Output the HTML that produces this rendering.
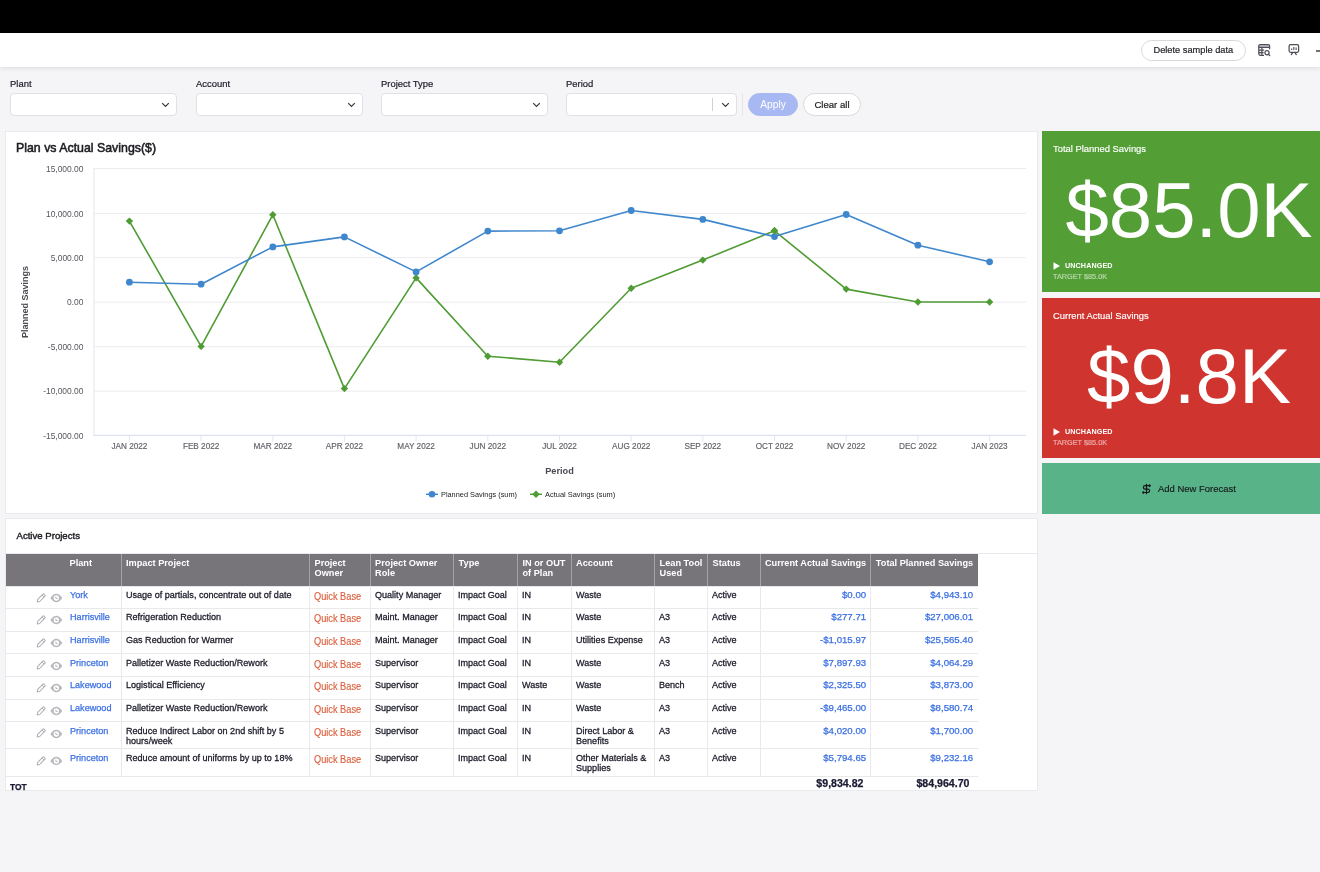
<!DOCTYPE html>
<html lang="en">
<head>
<meta charset="utf-8">
<title>Plan vs Actual Savings Dashboard</title>
<style>
*{box-sizing:border-box;margin:0;padding:0}
html,body{width:1320px;height:872px;overflow:hidden;background:#f5f5f8;font-family:"Liberation Sans",sans-serif;color:#1f1f24}
.abs{position:absolute}
#blackbar{left:0;top:0;width:1320px;height:33px;background:#000}
#toolbar{left:0;top:33px;width:1320px;height:34px;background:#fff;box-shadow:0 1px 5px rgba(0,0,0,.11)}
.pill{position:absolute;border:1px solid #d9d9dd;border-radius:12px;background:#fff;font-size:9.6px;text-align:center;color:#1f1f24;-webkit-text-stroke:.2px #1f1f24}
.flabel{position:absolute;top:78px;font-size:9.7px;color:#1c1c28;line-height:12px;-webkit-text-stroke:.2px #1c1c28;transform:scaleX(.975);transform-origin:0 50%}
.fsel{position:absolute;top:92.800px;width:167px;height:23px;background:#fff;border:1px solid #e0e0e5;border-radius:4px}
.fsel svg{position:absolute;right:6.2px;top:8.2px}
.panel{position:absolute;background:#fff;border:1px solid #e9eaee}
.kt{position:absolute;left:11px;top:11.6px;font-size:9.6px;color:#fff;line-height:12px;white-space:nowrap;transform:scaleX(.98);transform-origin:0 50%;-webkit-text-stroke:.15px #fff}
.kv{position:absolute;left:0;width:294px;text-align:center;font-size:78px;line-height:80px;color:#fff;letter-spacing:0}
.ku{position:absolute;left:23px;font-size:7.2px;font-weight:bold;color:#fff;line-height:9px;letter-spacing:.1px}
.kg{position:absolute;left:11px;font-size:7.3px;color:rgba(255,255,255,.5);-webkit-text-stroke:.2px rgba(255,255,255,.5);line-height:9px;margin-top:.5px}
.th{position:absolute;color:#fff;font-weight:bold;font-size:9.2px;line-height:10px;white-space:nowrap}
.td{position:absolute;font-size:9.65px;line-height:9.500px;color:#1a1a28;white-space:nowrap;-webkit-text-stroke:.28px #1a1a28;transform:scaleX(.94);transform-origin:0 50%}
.td.lnk{color:#3a6fe2;-webkit-text-stroke:.25px #3a6fe2;transform:scaleX(.945)}
.td.lnk.num{font-size:9.65px;transform:scaleX(1)}
.td.qb{color:#dc5e3b;font-size:10.3px;-webkit-text-stroke:.15px #dc5e3b;transform:scaleX(.895)}
.td.num{text-align:right;transform-origin:100% 50%}
.td.tot{font-weight:bold;-webkit-text-stroke:.25px #1a1a33;font-size:10.1px;color:#1a1a33;transform:scaleX(1.05)}
.ic{position:absolute}
</style>
</head>
<body>
<div id="blackbar" class="abs"></div>
<div id="toolbar" class="abs">
  <div class="pill" style="left:1141px;top:6.5px;width:105px;height:21.5px;line-height:18.5px;"><span style="display:inline-block;transform:scaleX(.965)">Delete sample data</span></div>
  <svg class="abs" style="left:1257px;top:10px" width="15" height="15" viewBox="0 0 15 15" fill="none" stroke="#4e4e56" stroke-width="1.25"><path d="M2.2 1.700h9.6v2.400H2.200z" fill="#c9c9ce" stroke="none"/><path d="M7 12.300H3.300A1.500 1.500 0 0 1 1.800 10.800V3.100A1.500 1.500 0 0 1 3.300 1.600H11.100A1.500 1.500 0 0 1 12.600 3.100V6.300"/><path d="M1.800 4.400H12.600M4.900 4.400V12.300M1.800 7.100H7.200M1.800 9.700H6.600"/><circle cx="10" cy="9.800" r="2.100"/><path d="M11.600 11.400l1.200 1.200" stroke-linecap="round"/></svg>
  <svg class="abs" style="left:1287px;top:10px" width="15" height="15" viewBox="0 0 15 15" fill="none" stroke="#4e4e56" stroke-width="1.25"><rect x="2.100" y="1.700" width="9.500" height="7.600" rx="1.500"/><path d="M5.700 9.600L4.300 11.600M7.900 9.600L9.300 11.600" stroke-linecap="round"/><path d="M4.700 5.400v1.500M6.800 4v2.900M9.100 4.400v2.500" stroke-width="1.100"/></svg>
  <div class="abs" style="left:1316.3px;top:17.200px;width:8px;height:2px;background:#707076"></div>
</div>

<div class="flabel" style="left:10px">Plant</div>
<div class="flabel" style="left:196px">Account</div>
<div class="flabel" style="left:381px">Project Type</div>
<div class="flabel" style="left:566px">Period</div>
<div class="fsel" style="left:10px"><svg width="9" height="6" viewBox="0 0 9 6"><path d="M1.200 1.100l3.300 3.300 3.300-3.300" fill="none" stroke="#3a3a40" stroke-width="1.250"/></svg></div>
<div class="fsel" style="left:196px"><svg width="9" height="6" viewBox="0 0 9 6"><path d="M1.200 1.100l3.300 3.300 3.300-3.300" fill="none" stroke="#3a3a40" stroke-width="1.250"/></svg></div>
<div class="fsel" style="left:381px"><svg width="9" height="6" viewBox="0 0 9 6"><path d="M1.200 1.100l3.300 3.300 3.300-3.300" fill="none" stroke="#3a3a40" stroke-width="1.250"/></svg></div>
<div class="fsel" style="left:566px;width:171px"><svg width="9" height="6" viewBox="0 0 9 6"><path d="M1.200 1.100l3.300 3.300 3.300-3.300" fill="none" stroke="#3a3a40" stroke-width="1.250"/></svg><div style="position:absolute;left:145px;top:4px;width:1px;height:13px;background:#d0d1d6"></div></div>
<div class="abs" style="left:742px;top:93px;width:1px;height:23px;background:#e4e5ea"></div>
<div class="pill" style="left:748px;top:93px;width:50px;height:23px;line-height:21px;background:#a8b8f2;border-color:#a8b8f2;color:#fff;-webkit-text-stroke:0;font-size:10.2px">Apply</div>
<div class="pill" style="left:803px;top:93px;width:58px;height:23px;line-height:21px;">Clear all</div>

<div class="panel" style="left:5px;top:131px;width:1033px;height:383px"></div>
<div class="abs" style="left:16.2px;top:139.6px;font-size:13px;line-height:15px;color:#1c1c22;-webkit-text-stroke:.55px #1c1c22;white-space:nowrap;transform-origin:0 50%;transform:scaleX(.95)">Plan vs Actual Savings($)</div>
<div class="panel" style="left:5px;top:518px;width:1033px;height:273px"></div>
<div class="abs" style="left:6px;top:552.5px;width:1031px;height:1px;background:#e9eaee"></div>
<div class="abs" style="left:16.5px;top:530px;font-size:9.6px;line-height:12px;color:#1c1c22;-webkit-text-stroke:.4px #1c1c22">Active Projects</div>
<svg class="abs" style="left:0;top:0" width="1320" height="872" viewBox="0 0 1320 872" font-family="Liberation Sans, sans-serif">
<line x1="94" x2="1026" y1="168.5" y2="168.5" stroke="#ececf0" stroke-width="1"/>
<line x1="94" x2="1026" y1="213.4" y2="213.4" stroke="#ececf0" stroke-width="1"/>
<line x1="94" x2="1026" y1="257.7" y2="257.7" stroke="#ececf0" stroke-width="1"/>
<line x1="94" x2="1026" y1="302.2" y2="302.2" stroke="#ececf0" stroke-width="1"/>
<line x1="94" x2="1026" y1="346.7" y2="346.7" stroke="#ececf0" stroke-width="1"/>
<line x1="94" x2="1026" y1="391.2" y2="391.2" stroke="#ececf0" stroke-width="1"/>
<line x1="94" x2="94" y1="168" y2="435.5" stroke="#e3e4ea" stroke-width="1"/>
<line x1="93.5" x2="1026" y1="435.3" y2="435.3" stroke="#dfe2f3" stroke-width="1.2"/>
<line x1="129.4" x2="129.4" y1="435.5" y2="441.500" stroke="#e3e6f4" stroke-width="1"/>
<line x1="201.1" x2="201.1" y1="435.5" y2="441.500" stroke="#e3e6f4" stroke-width="1"/>
<line x1="272.8" x2="272.8" y1="435.5" y2="441.500" stroke="#e3e6f4" stroke-width="1"/>
<line x1="344.4" x2="344.4" y1="435.5" y2="441.500" stroke="#e3e6f4" stroke-width="1"/>
<line x1="416.1" x2="416.1" y1="435.5" y2="441.500" stroke="#e3e6f4" stroke-width="1"/>
<line x1="487.8" x2="487.8" y1="435.5" y2="441.500" stroke="#e3e6f4" stroke-width="1"/>
<line x1="559.5" x2="559.5" y1="435.5" y2="441.500" stroke="#e3e6f4" stroke-width="1"/>
<line x1="631.2" x2="631.2" y1="435.5" y2="441.500" stroke="#e3e6f4" stroke-width="1"/>
<line x1="702.8" x2="702.8" y1="435.5" y2="441.500" stroke="#e3e6f4" stroke-width="1"/>
<line x1="774.5" x2="774.5" y1="435.5" y2="441.500" stroke="#e3e6f4" stroke-width="1"/>
<line x1="846.2" x2="846.2" y1="435.5" y2="441.500" stroke="#e3e6f4" stroke-width="1"/>
<line x1="917.9" x2="917.9" y1="435.5" y2="441.500" stroke="#e3e6f4" stroke-width="1"/>
<line x1="989.6" x2="989.6" y1="435.5" y2="441.500" stroke="#e3e6f4" stroke-width="1"/>
<text x="83.5" y="171.7" text-anchor="end" font-size="8.45" fill="#55555c">15,000.00</text>
<text x="83.5" y="216.6" text-anchor="end" font-size="8.45" fill="#55555c">10,000.00</text>
<text x="83.5" y="260.9" text-anchor="end" font-size="8.45" fill="#55555c">5,000.00</text>
<text x="83.5" y="305.4" text-anchor="end" font-size="8.45" fill="#55555c">0.00</text>
<text x="83.5" y="349.9" text-anchor="end" font-size="8.45" fill="#55555c">-5,000.00</text>
<text x="83.5" y="394.4" text-anchor="end" font-size="8.45" fill="#55555c">-10,000.00</text>
<text x="83.5" y="438.6" text-anchor="end" font-size="8.45" fill="#55555c">-15,000.00</text>
<text x="129.4" y="449.3" text-anchor="middle" font-size="8.2" fill="#5f5f66" stroke="#5f5f66" stroke-width=".15">JAN 2022</text>
<text x="201.1" y="449.3" text-anchor="middle" font-size="8.2" fill="#5f5f66" stroke="#5f5f66" stroke-width=".15">FEB 2022</text>
<text x="272.8" y="449.3" text-anchor="middle" font-size="8.2" fill="#5f5f66" stroke="#5f5f66" stroke-width=".15">MAR 2022</text>
<text x="344.4" y="449.3" text-anchor="middle" font-size="8.2" fill="#5f5f66" stroke="#5f5f66" stroke-width=".15">APR 2022</text>
<text x="416.1" y="449.3" text-anchor="middle" font-size="8.2" fill="#5f5f66" stroke="#5f5f66" stroke-width=".15">MAY 2022</text>
<text x="487.8" y="449.3" text-anchor="middle" font-size="8.2" fill="#5f5f66" stroke="#5f5f66" stroke-width=".15">JUN 2022</text>
<text x="559.5" y="449.3" text-anchor="middle" font-size="8.2" fill="#5f5f66" stroke="#5f5f66" stroke-width=".15">JUL 2022</text>
<text x="631.2" y="449.3" text-anchor="middle" font-size="8.2" fill="#5f5f66" stroke="#5f5f66" stroke-width=".15">AUG 2022</text>
<text x="702.8" y="449.3" text-anchor="middle" font-size="8.2" fill="#5f5f66" stroke="#5f5f66" stroke-width=".15">SEP 2022</text>
<text x="774.5" y="449.3" text-anchor="middle" font-size="8.2" fill="#5f5f66" stroke="#5f5f66" stroke-width=".15">OCT 2022</text>
<text x="846.2" y="449.3" text-anchor="middle" font-size="8.2" fill="#5f5f66" stroke="#5f5f66" stroke-width=".15">NOV 2022</text>
<text x="917.9" y="449.3" text-anchor="middle" font-size="8.2" fill="#5f5f66" stroke="#5f5f66" stroke-width=".15">DEC 2022</text>
<text x="989.6" y="449.3" text-anchor="middle" font-size="8.2" fill="#5f5f66" stroke="#5f5f66" stroke-width=".15">JAN 2023</text>
<text x="559.5" y="474" text-anchor="middle" font-size="9.2" font-weight="bold" fill="#4a4a52">Period</text>
<text transform="translate(28,302) rotate(-90)" text-anchor="middle" font-size="9" font-weight="bold" fill="#4a4a52">Planned Savings</text>
<polyline points="129.4,221.1 201.1,346.4 272.8,214.8 344.4,388.6 416.1,277.9 487.8,356.2 559.5,362.2 631.2,288.2 702.8,260.1 774.5,230.8 846.2,289.1 917.9,302.0 989.6,302.0" fill="none" stroke="#4f9b34" stroke-width="1.6" stroke-linejoin="round"/>
<polyline points="129.4,282.2 201.1,284.2 272.8,246.9 344.4,236.9 416.1,271.9 487.8,231.1 559.5,230.8 631.2,210.5 702.8,219.4 774.5,236.6 846.2,214.5 917.9,245.2 989.6,261.8" fill="none" stroke="#3f87cd" stroke-width="1.6" stroke-linejoin="round"/>
<path d="M129.4 217.4l3.7 3.7l-3.7 3.7l-3.7 -3.7z" fill="#4f9b34"/>
<path d="M201.1 342.7l3.7 3.7l-3.7 3.7l-3.7 -3.7z" fill="#4f9b34"/>
<path d="M272.8 211.1l3.7 3.7l-3.7 3.7l-3.7 -3.7z" fill="#4f9b34"/>
<path d="M344.4 384.9l3.7 3.7l-3.7 3.7l-3.7 -3.7z" fill="#4f9b34"/>
<path d="M416.1 274.2l3.7 3.7l-3.7 3.7l-3.7 -3.7z" fill="#4f9b34"/>
<path d="M487.8 352.5l3.7 3.7l-3.7 3.7l-3.7 -3.7z" fill="#4f9b34"/>
<path d="M559.5 358.5l3.7 3.7l-3.7 3.7l-3.7 -3.7z" fill="#4f9b34"/>
<path d="M631.2 284.5l3.7 3.7l-3.7 3.7l-3.7 -3.7z" fill="#4f9b34"/>
<path d="M702.8 256.4l3.7 3.7l-3.7 3.7l-3.7 -3.7z" fill="#4f9b34"/>
<path d="M774.5 227.1l3.7 3.7l-3.7 3.7l-3.7 -3.7z" fill="#4f9b34"/>
<path d="M846.2 285.4l3.7 3.7l-3.7 3.7l-3.7 -3.7z" fill="#4f9b34"/>
<path d="M917.9 298.3l3.7 3.7l-3.7 3.7l-3.7 -3.7z" fill="#4f9b34"/>
<path d="M989.6 298.3l3.7 3.7l-3.7 3.7l-3.7 -3.7z" fill="#4f9b34"/>
<circle cx="129.4" cy="282.2" r="3.4" fill="#3f87cd"/>
<circle cx="201.1" cy="284.2" r="3.4" fill="#3f87cd"/>
<circle cx="272.8" cy="246.9" r="3.4" fill="#3f87cd"/>
<circle cx="344.4" cy="236.9" r="3.4" fill="#3f87cd"/>
<circle cx="416.1" cy="271.9" r="3.4" fill="#3f87cd"/>
<circle cx="487.8" cy="231.1" r="3.4" fill="#3f87cd"/>
<circle cx="559.5" cy="230.8" r="3.4" fill="#3f87cd"/>
<circle cx="631.2" cy="210.5" r="3.4" fill="#3f87cd"/>
<circle cx="702.8" cy="219.4" r="3.4" fill="#3f87cd"/>
<circle cx="774.5" cy="236.6" r="3.4" fill="#3f87cd"/>
<circle cx="846.2" cy="214.5" r="3.4" fill="#3f87cd"/>
<circle cx="917.9" cy="245.2" r="3.4" fill="#3f87cd"/>
<circle cx="989.6" cy="261.8" r="3.4" fill="#3f87cd"/>
<path d="M774.5 227.1l3.7 3.7l-3.7 3.7l-3.7 -3.7z" fill="#4f9b34"/>
<line x1="426" x2="438" y1="494.3" y2="494.3" stroke="#3f87cd" stroke-width="1.5"/><circle cx="432" cy="494.3" r="3.300" fill="#3f87cd"/>
<text x="441" y="497.2" font-size="7.9" fill="#222" textLength="76" lengthAdjust="spacingAndGlyphs">Planned Savings (sum)</text>
<line x1="530" x2="542" y1="494.3" y2="494.3" stroke="#4f9b34" stroke-width="1.5"/><path d="M536 490.600l3.700 3.700l-3.700 3.700l-3.700 -3.700z" fill="#4f9b34"/>
<text x="545" y="497.2" font-size="7.9" fill="#222" textLength="70.3" lengthAdjust="spacingAndGlyphs">Actual Savings (sum)</text>
</svg>

<div class="abs" style="left:1042px;top:131px;width:294px;height:161px;background:#539f36">
  <div class="kt">Total Planned Savings</div>
  <div class="kv" style="top:39px">$85.0K</div>
  <svg class="abs" style="left:11px;top:130.5px" width="8" height="8" viewBox="0 0 8 8"><path d="M.5 .3v7.4L7 4z" fill="#fff"/></svg>
  <div class="ku" style="top:130px">UNCHANGED</div>
  <div class="kg" style="top:140px">TARGET $85.0K</div>
</div>
<div class="abs" style="left:1042px;top:298px;width:294px;height:160px;background:#d0342f">
  <div class="kt">Current Actual Savings</div>
  <div class="kv" style="top:38px">$9.8K</div>
  <svg class="abs" style="left:11px;top:129.5px" width="8" height="8" viewBox="0 0 8 8"><path d="M.5 .3v7.4L7 4z" fill="#fff"/></svg>
  <div class="ku" style="top:129px">UNCHANGED</div>
  <div class="kg" style="top:139px">TARGET $85.0K</div>
</div>
<div class="abs" style="left:1042px;top:463px;width:294px;height:51px;background:#58b388">
  <svg class="abs" style="left:98px;top:18px" width="14" height="16" viewBox="0 0 14 16" fill="none" stroke="#17171c" stroke-width="1.200"><path d="M6.500 2.800V13.200"/><path d="M10.200 4.700H5.100a1.700 1.700 0 0 0 0 3.400H7.900a1.700 1.700 0 0 1 0 3.400H2.800"/><path d="M9.400 3.400l1.500 1.300-1.500 1.300z" fill="#17171c" stroke-width=".6"/><path d="M3.600 10.200l-1.500 1.300 1.500 1.300z" fill="#17171c" stroke-width=".6"/></svg>
  <div class="abs" style="left:116px;top:19.8px;font-size:9.8px;line-height:12px;color:#17171c;white-space:nowrap;transform:scaleX(.965);transform-origin:0 50%;-webkit-text-stroke:.15px #17171c">Add New Forecast</div>
</div>

<div class="abs" style="left:6px;top:553.5px;width:972px;height:32.5px;background:#77747a"></div>
<div class="th" style="left:69.5px;top:557.7px;width:50px">Plant</div>
<div class="abs" style="left:120.6px;top:553.5px;width:1px;height:32.5px;background:#a5a3a8"></div>
<div class="th" style="left:126.0px;top:557.7px;width:183.50000000000003px">Impact Project</div>
<div class="abs" style="left:309.1px;top:553.5px;width:1px;height:32.5px;background:#a5a3a8"></div>
<div class="th" style="left:314.5px;top:557.7px;width:55.599999999999966px">Project<br>Owner</div>
<div class="abs" style="left:369.7px;top:553.5px;width:1px;height:32.5px;background:#a5a3a8"></div>
<div class="th" style="left:375.09999999999997px;top:557.7px;width:78.5px">Project Owner<br>Role</div>
<div class="abs" style="left:453.2px;top:553.5px;width:1px;height:32.5px;background:#a5a3a8"></div>
<div class="th" style="left:458.59999999999997px;top:557.7px;width:58.900000000000034px">Type</div>
<div class="abs" style="left:517.1px;top:553.5px;width:1px;height:32.5px;background:#a5a3a8"></div>
<div class="th" style="left:522.5px;top:557.7px;width:48.60000000000002px">IN or OUT<br>of Plan</div>
<div class="abs" style="left:570.7px;top:553.5px;width:1px;height:32.5px;background:#a5a3a8"></div>
<div class="th" style="left:576.1px;top:557.7px;width:78.5px">Account</div>
<div class="abs" style="left:654.2px;top:553.5px;width:1px;height:32.5px;background:#a5a3a8"></div>
<div class="th" style="left:659.6px;top:557.7px;width:48.0px">Lean Tool<br>Used</div>
<div class="abs" style="left:707.2px;top:553.5px;width:1px;height:32.5px;background:#a5a3a8"></div>
<div class="th" style="left:712.6px;top:557.7px;width:48.09999999999991px">Status</div>
<div class="abs" style="left:760.3px;top:553.5px;width:1px;height:32.5px;background:#a5a3a8"></div>
<div class="th" style="left:760.8px;top:557.7px;width:105.4px;text-align:right">Current Actual Savings</div>
<div class="abs" style="left:870.3px;top:553.5px;width:1px;height:32.5px;background:#a5a3a8"></div>
<div class="th" style="left:870.8px;top:557.7px;width:102.4px;text-align:right">Total Planned Savings</div>
<div class="abs" style="left:6px;top:607.8px;width:972px;height:1px;background:#e9e9ec"></div>
<svg class="ic" style="left:36.3px;top:592.7px" width="10" height="10" viewBox="0 0 10 10" fill="none" stroke="#b0aeb4" stroke-width="1.05" stroke-linejoin="round"><path d="M1.200 9l.5-2.600L6.900 1.200a.85.85 0 0 1 1.200 0l.8.8a.85.85 0 0 1 0 1.200L3.700 8.500z"/><path d="M6 2l2.100 2.100" stroke-width=".9"/></svg>
<svg class="ic" style="left:49.9px;top:592.9px" width="13" height="10" viewBox="0 0 13 10"><path d="M.3 5Q6.300 -3.500 12.300 5Q6.300 13.500 .3 5z" fill="#b9b7bc"/><circle cx="6.300" cy="5" r="2.700" fill="#fff"/><path d="M5.900 3.500v2h1.700" stroke-width="1" fill="none" stroke="#b9b7bc"/></svg>
<div class="td lnk" style="left:70px;top:590.05px;width:52px">York</div>
<div class="td" style="left:125.6px;top:590.05px;width:183.50000000000003px">Usage of partials, concentrate out of date</div>
<div class="td qb" style="left:314.20000000000005px;top:592px;width:55.599999999999966px">Quick Base</div>
<div class="td" style="left:374.7px;top:590.05px;width:78.5px">Quality Manager</div>
<div class="td" style="left:458.2px;top:590.05px;width:58.900000000000034px">Impact Goal</div>
<div class="td" style="left:522.1px;top:590.05px;width:48.60000000000002px">IN</div>
<div class="td" style="left:575.7px;top:590.05px;width:78.5px">Waste</div>
<div class="td" style="left:659.2px;top:590.05px;width:48.0px"></div>
<div class="td" style="left:712.2px;top:590.05px;width:48.09999999999991px">Active</div>
<div class="td lnk num" style="left:760.8px;top:590.05px;width:105.3px">$0.00</div>
<div class="td lnk num" style="left:870.8px;top:590.05px;width:102.3px">$4,943.10</div>
<div class="abs" style="left:6px;top:630.5px;width:972px;height:1px;background:#e9e9ec"></div>
<svg class="ic" style="left:36.3px;top:615.0px" width="10" height="10" viewBox="0 0 10 10" fill="none" stroke="#b0aeb4" stroke-width="1.05" stroke-linejoin="round"><path d="M1.200 9l.5-2.600L6.900 1.200a.85.85 0 0 1 1.200 0l.8.8a.85.85 0 0 1 0 1.200L3.700 8.500z"/><path d="M6 2l2.100 2.100" stroke-width=".9"/></svg>
<svg class="ic" style="left:49.9px;top:615.1999999999999px" width="13" height="10" viewBox="0 0 13 10"><path d="M.3 5Q6.300 -3.500 12.300 5Q6.300 13.500 .3 5z" fill="#b9b7bc"/><circle cx="6.300" cy="5" r="2.700" fill="#fff"/><path d="M5.900 3.500v2h1.700" stroke-width="1" fill="none" stroke="#b9b7bc"/></svg>
<div class="td lnk" style="left:70px;top:612.3499999999999px;width:52px">Harrisville</div>
<div class="td" style="left:125.6px;top:612.3499999999999px;width:183.50000000000003px">Refrigeration Reduction</div>
<div class="td qb" style="left:314.20000000000005px;top:614.3px;width:55.599999999999966px">Quick Base</div>
<div class="td" style="left:374.7px;top:612.3499999999999px;width:78.5px">Maint. Manager</div>
<div class="td" style="left:458.2px;top:612.3499999999999px;width:58.900000000000034px">Impact Goal</div>
<div class="td" style="left:522.1px;top:612.3499999999999px;width:48.60000000000002px">IN</div>
<div class="td" style="left:575.7px;top:612.3499999999999px;width:78.5px">Waste</div>
<div class="td" style="left:659.2px;top:612.3499999999999px;width:48.0px">A3</div>
<div class="td" style="left:712.2px;top:612.3499999999999px;width:48.09999999999991px">Active</div>
<div class="td lnk num" style="left:760.8px;top:612.3499999999999px;width:105.3px">$277.71</div>
<div class="td lnk num" style="left:870.8px;top:612.3499999999999px;width:102.3px">$27,006.01</div>
<div class="abs" style="left:6px;top:653.2px;width:972px;height:1px;background:#e9e9ec"></div>
<svg class="ic" style="left:36.3px;top:637.7px" width="10" height="10" viewBox="0 0 10 10" fill="none" stroke="#b0aeb4" stroke-width="1.05" stroke-linejoin="round"><path d="M1.200 9l.5-2.600L6.900 1.200a.85.85 0 0 1 1.200 0l.8.8a.85.85 0 0 1 0 1.200L3.700 8.500z"/><path d="M6 2l2.100 2.100" stroke-width=".9"/></svg>
<svg class="ic" style="left:49.9px;top:637.9px" width="13" height="10" viewBox="0 0 13 10"><path d="M.3 5Q6.300 -3.500 12.300 5Q6.300 13.500 .3 5z" fill="#b9b7bc"/><circle cx="6.300" cy="5" r="2.700" fill="#fff"/><path d="M5.900 3.500v2h1.700" stroke-width="1" fill="none" stroke="#b9b7bc"/></svg>
<div class="td lnk" style="left:70px;top:635.05px;width:52px">Harrisville</div>
<div class="td" style="left:125.6px;top:635.05px;width:183.50000000000003px">Gas Reduction for Warmer</div>
<div class="td qb" style="left:314.20000000000005px;top:637px;width:55.599999999999966px">Quick Base</div>
<div class="td" style="left:374.7px;top:635.05px;width:78.5px">Maint. Manager</div>
<div class="td" style="left:458.2px;top:635.05px;width:58.900000000000034px">Impact Goal</div>
<div class="td" style="left:522.1px;top:635.05px;width:48.60000000000002px">IN</div>
<div class="td" style="left:575.7px;top:635.05px;width:78.5px">Utilities Expense</div>
<div class="td" style="left:659.2px;top:635.05px;width:48.0px">A3</div>
<div class="td" style="left:712.2px;top:635.05px;width:48.09999999999991px">Active</div>
<div class="td lnk num" style="left:760.8px;top:635.05px;width:105.3px">-$1,015.97</div>
<div class="td lnk num" style="left:870.8px;top:635.05px;width:102.3px">$25,565.40</div>
<div class="abs" style="left:6px;top:675.9px;width:972px;height:1px;background:#e9e9ec"></div>
<svg class="ic" style="left:36.3px;top:660.4000000000001px" width="10" height="10" viewBox="0 0 10 10" fill="none" stroke="#b0aeb4" stroke-width="1.05" stroke-linejoin="round"><path d="M1.200 9l.5-2.600L6.900 1.200a.85.85 0 0 1 1.200 0l.8.8a.85.85 0 0 1 0 1.200L3.700 8.500z"/><path d="M6 2l2.100 2.100" stroke-width=".9"/></svg>
<svg class="ic" style="left:49.9px;top:660.6px" width="13" height="10" viewBox="0 0 13 10"><path d="M.3 5Q6.300 -3.500 12.300 5Q6.300 13.500 .3 5z" fill="#b9b7bc"/><circle cx="6.300" cy="5" r="2.700" fill="#fff"/><path d="M5.900 3.500v2h1.700" stroke-width="1" fill="none" stroke="#b9b7bc"/></svg>
<div class="td lnk" style="left:70px;top:657.75px;width:52px">Princeton</div>
<div class="td" style="left:125.6px;top:657.75px;width:183.50000000000003px">Palletizer Waste Reduction/Rework</div>
<div class="td qb" style="left:314.20000000000005px;top:659.7px;width:55.599999999999966px">Quick Base</div>
<div class="td" style="left:374.7px;top:657.75px;width:78.5px">Supervisor</div>
<div class="td" style="left:458.2px;top:657.75px;width:58.900000000000034px">Impact Goal</div>
<div class="td" style="left:522.1px;top:657.75px;width:48.60000000000002px">IN</div>
<div class="td" style="left:575.7px;top:657.75px;width:78.5px">Waste</div>
<div class="td" style="left:659.2px;top:657.75px;width:48.0px">A3</div>
<div class="td" style="left:712.2px;top:657.75px;width:48.09999999999991px">Active</div>
<div class="td lnk num" style="left:760.8px;top:657.75px;width:105.3px">$7,897.93</div>
<div class="td lnk num" style="left:870.8px;top:657.75px;width:102.3px">$4,064.29</div>
<div class="abs" style="left:6px;top:698.5px;width:972px;height:1px;background:#e9e9ec"></div>
<svg class="ic" style="left:36.3px;top:683.1px" width="10" height="10" viewBox="0 0 10 10" fill="none" stroke="#b0aeb4" stroke-width="1.05" stroke-linejoin="round"><path d="M1.200 9l.5-2.600L6.900 1.200a.85.85 0 0 1 1.200 0l.8.8a.85.85 0 0 1 0 1.200L3.700 8.500z"/><path d="M6 2l2.100 2.100" stroke-width=".9"/></svg>
<svg class="ic" style="left:49.9px;top:683.3px" width="13" height="10" viewBox="0 0 13 10"><path d="M.3 5Q6.300 -3.500 12.300 5Q6.300 13.500 .3 5z" fill="#b9b7bc"/><circle cx="6.300" cy="5" r="2.700" fill="#fff"/><path d="M5.900 3.500v2h1.700" stroke-width="1" fill="none" stroke="#b9b7bc"/></svg>
<div class="td lnk" style="left:70px;top:680.4499999999999px;width:52px">Lakewood</div>
<div class="td" style="left:125.6px;top:680.4499999999999px;width:183.50000000000003px">Logistical Efficiency</div>
<div class="td qb" style="left:314.20000000000005px;top:682.4px;width:55.599999999999966px">Quick Base</div>
<div class="td" style="left:374.7px;top:680.4499999999999px;width:78.5px">Supervisor</div>
<div class="td" style="left:458.2px;top:680.4499999999999px;width:58.900000000000034px">Impact Goal</div>
<div class="td" style="left:522.1px;top:680.4499999999999px;width:48.60000000000002px">Waste</div>
<div class="td" style="left:575.7px;top:680.4499999999999px;width:78.5px">Waste</div>
<div class="td" style="left:659.2px;top:680.4499999999999px;width:48.0px">Bench</div>
<div class="td" style="left:712.2px;top:680.4499999999999px;width:48.09999999999991px">Active</div>
<div class="td lnk num" style="left:760.8px;top:680.4499999999999px;width:105.3px">$2,325.50</div>
<div class="td lnk num" style="left:870.8px;top:680.4499999999999px;width:102.3px">$3,873.00</div>
<div class="abs" style="left:6px;top:721.1px;width:972px;height:1px;background:#e9e9ec"></div>
<svg class="ic" style="left:36.3px;top:705.7px" width="10" height="10" viewBox="0 0 10 10" fill="none" stroke="#b0aeb4" stroke-width="1.05" stroke-linejoin="round"><path d="M1.200 9l.5-2.600L6.900 1.200a.85.85 0 0 1 1.200 0l.8.8a.85.85 0 0 1 0 1.200L3.700 8.500z"/><path d="M6 2l2.100 2.100" stroke-width=".9"/></svg>
<svg class="ic" style="left:49.9px;top:705.9px" width="13" height="10" viewBox="0 0 13 10"><path d="M.3 5Q6.300 -3.500 12.300 5Q6.300 13.500 .3 5z" fill="#b9b7bc"/><circle cx="6.300" cy="5" r="2.700" fill="#fff"/><path d="M5.900 3.500v2h1.700" stroke-width="1" fill="none" stroke="#b9b7bc"/></svg>
<div class="td lnk" style="left:70px;top:703.05px;width:52px">Lakewood</div>
<div class="td" style="left:125.6px;top:703.05px;width:183.50000000000003px">Palletizer Waste Reduction/Rework</div>
<div class="td qb" style="left:314.20000000000005px;top:705px;width:55.599999999999966px">Quick Base</div>
<div class="td" style="left:374.7px;top:703.05px;width:78.5px">Supervisor</div>
<div class="td" style="left:458.2px;top:703.05px;width:58.900000000000034px">Impact Goal</div>
<div class="td" style="left:522.1px;top:703.05px;width:48.60000000000002px">IN</div>
<div class="td" style="left:575.7px;top:703.05px;width:78.5px">Waste</div>
<div class="td" style="left:659.2px;top:703.05px;width:48.0px">A3</div>
<div class="td" style="left:712.2px;top:703.05px;width:48.09999999999991px">Active</div>
<div class="td lnk num" style="left:760.8px;top:703.05px;width:105.3px">-$9,465.00</div>
<div class="td lnk num" style="left:870.8px;top:703.05px;width:102.3px">$8,580.74</div>
<div class="abs" style="left:6px;top:748.3px;width:972px;height:1px;background:#e9e9ec"></div>
<svg class="ic" style="left:36.3px;top:728.3000000000001px" width="10" height="10" viewBox="0 0 10 10" fill="none" stroke="#b0aeb4" stroke-width="1.05" stroke-linejoin="round"><path d="M1.200 9l.5-2.600L6.900 1.200a.85.85 0 0 1 1.200 0l.8.8a.85.85 0 0 1 0 1.200L3.700 8.500z"/><path d="M6 2l2.100 2.100" stroke-width=".9"/></svg>
<svg class="ic" style="left:49.9px;top:728.5px" width="13" height="10" viewBox="0 0 13 10"><path d="M.3 5Q6.300 -3.500 12.300 5Q6.300 13.500 .3 5z" fill="#b9b7bc"/><circle cx="6.300" cy="5" r="2.700" fill="#fff"/><path d="M5.900 3.500v2h1.700" stroke-width="1" fill="none" stroke="#b9b7bc"/></svg>
<div class="td lnk" style="left:70px;top:726.25px;width:52px">Princeton</div>
<div class="td" style="left:125.6px;top:726.25px;width:183.50000000000003px">Reduce Indirect Labor on 2nd shift by 5<br>hours/week</div>
<div class="td qb" style="left:314.20000000000005px;top:728.2px;width:55.599999999999966px">Quick Base</div>
<div class="td" style="left:374.7px;top:726.25px;width:78.5px">Supervisor</div>
<div class="td" style="left:458.2px;top:726.25px;width:58.900000000000034px">Impact Goal</div>
<div class="td" style="left:522.1px;top:726.25px;width:48.60000000000002px">IN</div>
<div class="td" style="left:575.7px;top:726.25px;width:78.5px">Direct Labor &amp;<br>Benefits</div>
<div class="td" style="left:659.2px;top:726.25px;width:48.0px">A3</div>
<div class="td" style="left:712.2px;top:726.25px;width:48.09999999999991px">Active</div>
<div class="td lnk num" style="left:760.8px;top:726.25px;width:105.3px">$4,020.00</div>
<div class="td lnk num" style="left:870.8px;top:726.25px;width:102.3px">$1,700.00</div>
<div class="abs" style="left:6px;top:775.5px;width:972px;height:1px;background:#e9e9ec"></div>
<svg class="ic" style="left:36.3px;top:755.5px" width="10" height="10" viewBox="0 0 10 10" fill="none" stroke="#b0aeb4" stroke-width="1.05" stroke-linejoin="round"><path d="M1.200 9l.5-2.600L6.900 1.200a.85.85 0 0 1 1.200 0l.8.8a.85.85 0 0 1 0 1.200L3.700 8.500z"/><path d="M6 2l2.100 2.100" stroke-width=".9"/></svg>
<svg class="ic" style="left:49.9px;top:755.6999999999999px" width="13" height="10" viewBox="0 0 13 10"><path d="M.3 5Q6.300 -3.500 12.300 5Q6.300 13.500 .3 5z" fill="#b9b7bc"/><circle cx="6.300" cy="5" r="2.700" fill="#fff"/><path d="M5.900 3.500v2h1.700" stroke-width="1" fill="none" stroke="#b9b7bc"/></svg>
<div class="td lnk" style="left:70px;top:753.4499999999999px;width:52px">Princeton</div>
<div class="td" style="left:125.6px;top:753.4499999999999px;width:183.50000000000003px">Reduce amount of uniforms by up to 18%</div>
<div class="td qb" style="left:314.20000000000005px;top:755.4px;width:55.599999999999966px">Quick Base</div>
<div class="td" style="left:374.7px;top:753.4499999999999px;width:78.5px">Supervisor</div>
<div class="td" style="left:458.2px;top:753.4499999999999px;width:58.900000000000034px">Impact Goal</div>
<div class="td" style="left:522.1px;top:753.4499999999999px;width:48.60000000000002px">IN</div>
<div class="td" style="left:575.7px;top:753.4499999999999px;width:78.5px">Other Materials &amp;<br>Supplies</div>
<div class="td" style="left:659.2px;top:753.4499999999999px;width:48.0px">A3</div>
<div class="td" style="left:712.2px;top:753.4499999999999px;width:48.09999999999991px">Active</div>
<div class="td lnk num" style="left:760.8px;top:753.4499999999999px;width:105.3px">$5,794.65</div>
<div class="td lnk num" style="left:870.8px;top:753.4499999999999px;width:102.3px">$9,232.16</div>
<div class="abs" style="left:120.6px;top:586px;width:1px;height:190px;background:#e9e9ec"></div>
<div class="abs" style="left:309.1px;top:586px;width:1px;height:190px;background:#e9e9ec"></div>
<div class="abs" style="left:369.7px;top:586px;width:1px;height:190px;background:#e9e9ec"></div>
<div class="abs" style="left:453.2px;top:586px;width:1px;height:190px;background:#e9e9ec"></div>
<div class="abs" style="left:517.1px;top:586px;width:1px;height:190px;background:#e9e9ec"></div>
<div class="abs" style="left:570.7px;top:586px;width:1px;height:190px;background:#e9e9ec"></div>
<div class="abs" style="left:654.2px;top:586px;width:1px;height:190px;background:#e9e9ec"></div>
<div class="abs" style="left:707.2px;top:586px;width:1px;height:190px;background:#e9e9ec"></div>
<div class="abs" style="left:760.3px;top:586px;width:1px;height:190px;background:#e9e9ec"></div>
<div class="abs" style="left:870.3px;top:586px;width:1px;height:190px;background:#e9e9ec"></div>
<div class="abs" style="left:6px;top:586px;width:971.8px;height:1px;background:#e9e9ec"></div>
<div class="td tot" style="left:10.200px;top:782.700px;width:40px;font-size:9.200px;transform:scaleX(.92)">TOT</div>
<div class="td tot num" style="left:761px;top:778.6px;width:102.5px;">$9,834.82</div>
<div class="td tot num" style="left:871px;top:778.6px;width:98.5px;">$84,964.70</div>
</body>
</html>
